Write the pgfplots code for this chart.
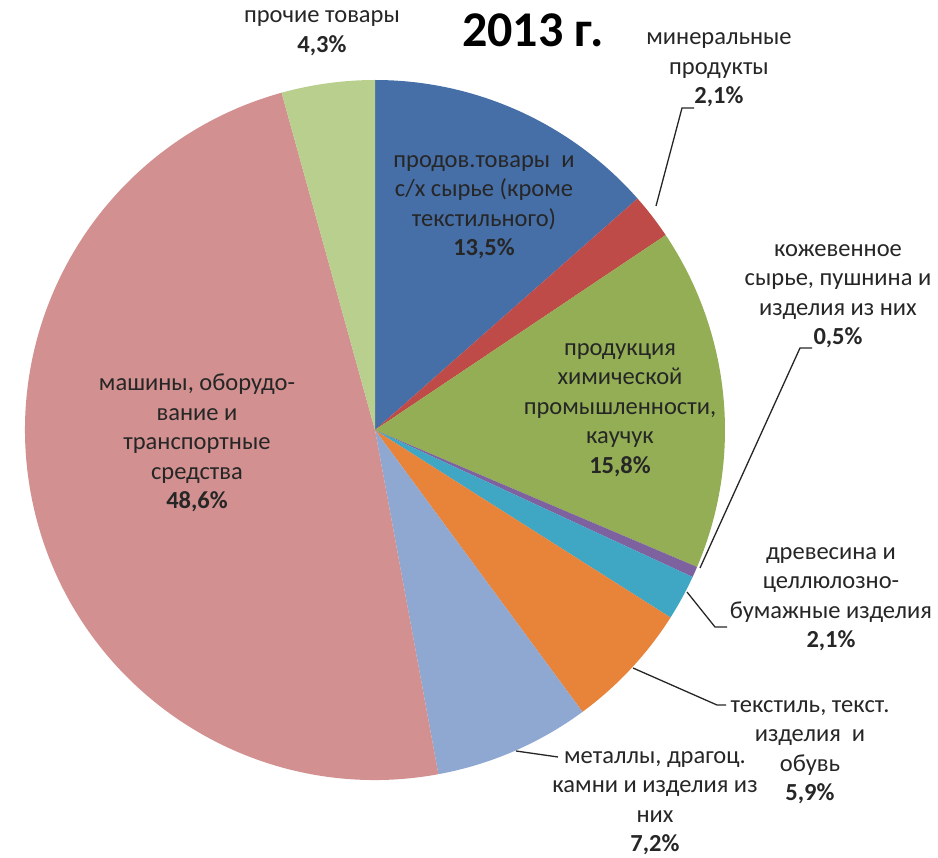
\documentclass[border=0pt]{standalone}
\usepackage{pgfplots}
\pgfplotsset{compat=1.18}
\usepackage{pgfplotstable}
\usepackage{fontspec}
\setmainfont{Carlito}

\definecolor{cBlue}{HTML}{466FA8}
\definecolor{cRed}{HTML}{BE4B48}
\definecolor{cGreen}{HTML}{93AE54}
\definecolor{cPurple}{HTML}{7E62A0}
\definecolor{cTeal}{HTML}{3FA6C4}
\definecolor{cOrange}{HTML}{E8833A}
\definecolor{cLBlue}{HTML}{8FA8D2}
\definecolor{cPink}{HTML}{D29190}
\definecolor{cLGreen}{HTML}{B9CF8E}
\definecolor{txt}{HTML}{262626}

% shares in %, clockwise from 12 o'clock
\pgfplotstableread{
share col
13.5 cBlue
2.1  cRed
15.8 cGreen
0.5  cPurple
2.1  cTeal
5.9  cOrange
7.2  cLBlue
48.6 cPink
4.3  cLGreen
}\piedata

\begin{document}
\begin{tikzpicture}[lab/.style={align=center, text=txt, font=\fontsize{24.5}{29.5}\selectfont}]
\begin{axis}[
    name=ax,
    scale only axis,
    width=938pt, height=858pt,
    xmin=0, xmax=938, ymin=0, ymax=858,
    y dir=reverse,
    hide axis,
    clip=false,
]
\gdef\cum{0}
\pgfplotsinvokeforeach{0,...,8}{
    \pgfplotstablegetelem{#1}{share}\of\piedata
    \let\sliceval\pgfplotsretval
    \pgfplotstablegetelem{#1}{col}\of\piedata
    \let\slicecol\pgfplotsretval
    \pgfmathsetmacro\sa{90-3.6*\cum}
    \pgfmathsetmacro\ea{90-3.6*(\cum+\sliceval)}
    \pgfmathsetmacro\newcum{\cum+\sliceval}
    \xdef\cum{\newcum}
    \edef\tmp{\noexpand\fill[\slicecol] (axis cs:375,430) -- ++(\sa:350pt)
        arc[start angle=\sa, end angle=\ea, radius=350pt] -- cycle;}
    \tmp
}

% leader lines
\addplot[black!85, line width=1.3pt] coordinates {(656,206) (682,108) (694,108)};
\addplot[black!85, line width=1.3pt] coordinates {(700,568) (800,348) (812,348)};
\addplot[black!85, line width=1.3pt] coordinates {(687,592) (715,627) (727,627)};
\addplot[black!85, line width=1.3pt] coordinates {(633,668) (717,705) (726,705)};
\addplot[black!85, line width=1.3pt] coordinates {(516,751) (558,757)};

\node[font=\fontsize{50}{50}\selectfont\bfseries] at (axis cs:533,30) {2013 г.};
\node[lab] at (axis cs:322,33) {прочие товары\\\textbf{4,3\%}};
\node[lab] at (axis cs:719,70) {минеральные\\продукты\\\textbf{2,1\%}};
\node[lab] at (axis cs:484,207) {продов.товары~ и\\с/х сырье (кроме\\текстильного)\\\textbf{13,5\%}};
\node[lab] at (axis cs:838,296) {кожевенное\\сырье, пушнина и\\изделия из них\\\textbf{0,5\%}};
\node[lab] at (axis cs:620,410) {продукция\\химической\\промышленности,\\каучук\\\textbf{15,8\%}};
\node[lab] at (axis cs:197,443) {машины, оборудо-\\вание и\\транспортные\\средства\\\textbf{48,6\%}};
\node[lab] at (axis cs:831,599) {древесина и\\целлюлозно-\\бумажные изделия\\\textbf{2,1\%}};
\node[lab] at (axis cs:810,752) {текстиль, текст.\\изделия~ и\\обувь\\\textbf{5,9\%}};
\node[lab] at (axis cs:655,803) {металлы, драгоц.\\камни и изделия из\\них\\\textbf{7,2\%}};
\end{axis}
\pgfresetboundingbox
\path (ax.south west) rectangle (ax.north east);
\end{tikzpicture}
\end{document}
